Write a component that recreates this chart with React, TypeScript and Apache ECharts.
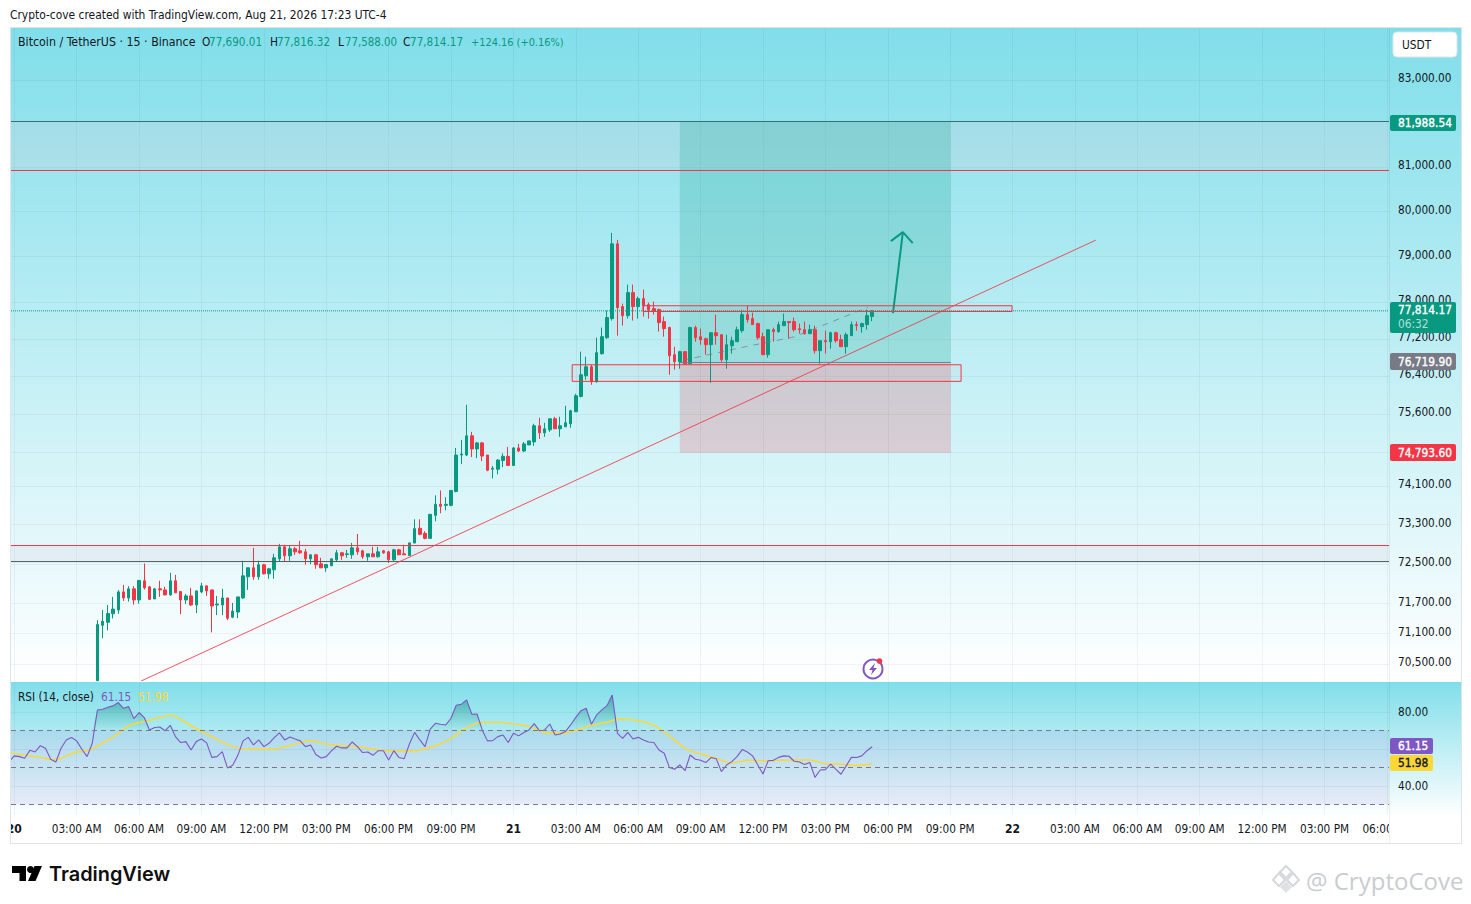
import React, { useEffect, useRef } from "react";
import * as echarts from "echarts";

const FONT = '"DejaVu Sans Condensed", "DejaVu Sans", sans-serif';
const UP = "#089981";
const DOWN = "#f23645";
const INK = "#131722";

// x unit: one 15-minute slot counted from Aug 20 00:00
const firstCandleSlot = 16;
const opens = [
  70170,71266,71327,71496,71570,71935,71813,71996,71773,72158,
  72036,71793,71996,71975,71874,72158,71941,71773,71854,71672,
  71935,72056,71975,71672,71672,71813,71428,71530,71813,72239,
  72421,72239,72482,72299,72380,72603,72846,72664,72806,72765,
  72745,72603,72684,72502,72421,72461,72583,72725,72691,72684,
  72826,72765,72644,72704,72644,72765,72745,72583,72785,72704,
  72670,72923,73225,73122,73019,73491,73717,73696,73696,73984,
  74740,74740,75142,74867,74994,74740,74444,74444,74627,74712,
  74522,74888,74824,74951,75015,75353,75205,75269,75501,75290,
  75332,75396,75649,75975,76414,76608,76287,76888,77232,77645,
  79285,77906,77710,78212,77906,78080,77949,77862,77841,77580,
  77450,76866,76716,76931,76673,77450,77254,77210,77081,77340,
  77297,76758,77059,77146,77384,77732,77645,77537,77254,76866,
  77405,77363,77493,77580,77580,77428,77405,77319,77405,76953,
  77167,77146,77340,77189,77038,77276,77515,77471,77515,77690.01,
];
const closes = [
  71280,71347,71503,71590,71935,71813,71996,71773,72164,72016,
  71786,71996,71975,71874,72158,71915,71773,71854,71672,71955,
  72056,71955,71651,71692,71813,71408,71550,71834,72259,72421,
  72239,72482,72299,72400,72623,72846,72664,72806,72745,72725,
  72603,72684,72482,72421,72488,72603,72725,72664,72704,72826,
  72745,72644,72704,72644,72745,72725,72583,72785,72684,72684,
  72927,73218,73101,73019,73512,73717,73676,73717,74004,74740,
  74761,75142,74867,74994,74719,74423,74466,74634,74712,74522,
  74888,74824,74973,75036,75353,75205,75290,75501,75290,75353,
  75417,75671,75988,76436,76608,76287,76910,77254,77667,79285,
  77884,77710,78212,77906,78080,77928,77841,77819,77558,77428,
  76845,76716,76931,76666,77450,77232,77189,77081,77340,77275,
  76758,77081,77167,77405,77732,77623,77515,77232,76866,77405,
  77363,77515,77580,77558,77405,77405,77319,77405,76953,77167,
  77146,77340,77167,77038,77297,77515,77493,77537,77710,77814.17,
];
const highs = [
  71368,71570,71672,71834,71969,72077,72050,72050,72178,72509,
  72056,72009,72158,72036,72320,72279,71955,71894,72016,71960,
  72117,72056,71975,71854,71996,71813,71712,71834,72563,72421,
  72826,72563,72502,72421,72704,72907,72887,72866,72846,72968,
  72806,72684,72704,72623,72495,72603,72785,72745,72785,72927,
  73109,72785,72704,72846,72846,72785,72765,72806,72806,72887,
  72927,73409,73409,73163,73512,73902,74004,73861,74004,74888,
  75057,75797,75226,75015,75015,74740,74508,74655,74775,74909,
  74909,74973,75015,75036,75396,75522,75417,75501,75544,75544,
  75776,75692,76030,76931,76824,76651,77232,77450,77819,79529,
  79372,77971,78387,78387,78124,78277,77993,78015,77862,77689,
  77471,77037,76953,76931,77471,77493,77428,77232,77340,77732,
  77297,77297,77254,77471,77841,77928,77776,77558,77341,77405,
  77450,77580,77754,77580,77667,77537,77580,77515,77493,77167,
  77384,77363,77363,77297,77341,77580,77580,77558,77841,77816.32,
];
const lows = [
  70170,71010,71165,71402,71496,71753,71739,71678,71699,71982,
  71773,71793,71834,71867,71860,71915,71489,71692,71651,71510,
  71908,71854,71125,71469,71469,71368,71408,71408,71793,71975,
  72178,72178,72286,72198,72198,72542,72542,72563,72684,72704,
  72482,72495,72400,72414,72340,72461,72542,72583,72623,72603,
  72684,72603,72563,72644,72630,72704,72522,72563,72684,72684,
  72670,72923,73081,72999,73019,73368,73532,73594,73676,73963,
  74550,74719,74698,74676,74613,74402,74254,74339,74486,74522,
  74522,74803,74803,74951,74930,75078,75121,75226,75290,75121,
  75332,75311,75649,75954,76329,76223,76265,76866,77210,77602,
  77276,77493,77645,77602,77645,77689,77645,77732,77363,77254,
  76436,76544,76565,76666,76651,77146,77081,76866,76265,77081,
  76716,76565,76888,77146,77340,77558,77515,77189,76866,76802,
  77146,77340,77493,77210,77363,77319,77297,77319,76888,76673,
  76888,76995,77124,77038,76888,77276,77384,77341,77406,77588,
];

const firstRsiSlot = -1;
const rsiValues = [
  53.1,56.2,55.8,54.9,59.2,58.3,61.7,60.3,54.4,52.9,60.3,
  64.8,66.1,64.3,59.8,55.8,63.0,81.0,81.4,82.4,83.2,
  85.0,81.9,82.8,76.3,79.6,76.9,70.2,71.5,71.8,69.8,
  72.7,66.6,63.4,63.9,59.4,63.9,65.3,63.2,55.4,55.8,
  58.5,49.7,51.1,56.5,64.3,66.2,62.1,64.8,61.2,63.0,
  66.1,68.6,64.8,66.4,65.3,64.3,61.2,62.1,56.9,55.1,
  55.8,58.9,61.4,60.5,60.5,63.7,61.2,58.0,58.3,56.5,
  59.0,59.0,54.0,59.0,55.3,54.7,62.6,68.9,64.8,61.2,
  70.6,73.8,73.3,72.9,76.5,83.5,84.1,86.4,78.7,78.8,
  70.2,64.3,64.4,66.6,67.5,63.4,68.4,67.0,68.8,70.2,
  73.6,69.8,70.2,73.4,67.5,68.0,69.3,72.9,77.0,80.6,
  81.9,73.3,78.3,81.0,83.3,89.1,68.4,65.7,68.9,65.3,
  66.2,64.8,63.7,63.4,59.4,57.6,50.0,49.0,51.3,48.2,
  56.7,54.4,53.8,52.6,55.3,54.7,47.7,51.3,53.1,55.8,
  59.6,58.3,56.2,51.3,46.4,53.6,53.8,55.4,56.2,56.0,
  53.3,52.9,51.5,52.6,44.6,48.6,48.8,51.8,49.0,46.3,
  50.8,55.4,55.3,56.2,59.0,61.15,
];
const rsiMaSlots = [
  -1,2,5,8,10,12,14,16,18,20,22,24,26,28,30,33,36,39,42,45,48,51,54,57,60,63,66,69,72,75,78,81,84,86,88,90,
  93,96,99,102,105,108,111,114,116,120,123,126,129,132,135,138,141,144,147,150,153,156,159,162,165,
];
const rsiMaValues = [
  58.0,56.5,55.4,54.0,56.2,58.3,59.0,61.6,64.8,68.4,72.5,74.2,75.4,77.0,78.1,74.2,69.3,65.2,61.2,59.8,59.8,60.3,62.6,64.3,62.6,61.7,61.2,59.8,59.0,58.9,59.4,61.7,65.7,69.7,72.9,74.3,
  74.3,73.4,72.0,68.9,68.4,70.0,72.7,74.3,76.0,75.2,72.7,67.0,60.3,57.2,54.9,52.4,53.8,53.6,53.8,54.0,54.0,52.0,51.8,51.1,51.98,
];

const priceGridTicks = [83000,81000,80000,79000,78000,77200,76400,75600,74800,74100,73300,72500,71700,71100,70500];
const rsiGridTicks = [80,60,40];
const rsiLabelTicks = [80,40];
const rsiGuides = [70,50,30];
const timeTicks: number[] = [];
for (let s = 0; s <= 264; s += 12) timeTicks.push(s);
const hourLabels = ["12:00 AM","03:00 AM","06:00 AM","09:00 AM","12:00 PM","03:00 PM","06:00 PM","09:00 PM"];
const firstDay = 20;

// drawn levels and tools: [slot, price]
const axisSlots = [-0.63, 264.4];
const upperZoneLevels = [82043, 80928];
const lowerZoneLevels = [72873, 72547];
const lastPrice = 77814.17;
const positionLevels = [82043, 76700, 74780];
const positionSlots = [128, 180.1];
const rectA = { slots: [120.9, 191.9], prices: [77925, 77800] };
const rectB = { slots: [107.3, 182.1], prices: [76650, 76295] };
const trendLine = [[24.4, 70165], [208, 79367]];
const dashedLine = [[128.6, 76745], [139, 77000], [150, 77250], [164.2, 77893]];
const arrowShaft = [[169, 77762], [170.9, 79545]];
const arrowHead = [[168.6, 79345], [170.9, 79545], [172.8, 79301]];

const txt = (x: number, y: number, text: string, fill = INK, size = 11.8, extra: any = {}) => ({
  type: "text", x, y, z: 100, silent: true,
  style: { text, fill, fontFamily: FONT, fontSize: size, verticalAlign: "middle", textVerticalAlign: "middle", ...extra },
});
const tagText = (x: number, y: number, text: string, color = "#ffffff") =>
  txt(x, y, text, color, 11.8, { stroke: color, lineWidth: 0.35 });
const tag = (y: number, h: number, fill: string, text: string, color = "#ffffff", w = 66) => [
  { type: "rect", z: 99, silent: true, shape: { x: 1390, y, width: w, height: h, r: 2 }, style: { fill } },
  tagText(1398, y + h / 2, text, color),
];
const toolLine = (data: number[][], color: string, width: number, extra: any = {}, z = 6) => ({
  type: "line", xAxisIndex: 0, yAxisIndex: 0, data, symbol: "none", silent: true, z, clip: true,
  lineStyle: { color, width, ...extra }, animation: false,
});
const levelLine = (y: number, color: string, extra: any = {}) =>
  toolLine(axisSlots.map((s) => [s, y]), color, 1, extra, 5);

export default function App() {
  const ref = useRef<HTMLDivElement>(null);
  useEffect(() => {
    const chart = echarts.init(ref.current!, undefined, { renderer: "svg" });
    const candles = opens.map((o, i) => [firstCandleSlot + i, o, closes[i], lows[i], highs[i]]);
    const rsi = rsiValues.map((v, i) => [firstRsiSlot + i, v]);
    const rsiAbove = rsiValues.map((v, i) => [firstRsiSlot + i, Math.max(v, 70)]);
    const rsiMa = rsiMaSlots.map((s, i) => [s, rsiMaValues[i]]);

    chart.setOption({
      animation: false,
      backgroundColor: "#ffffff",
      textStyle: { fontFamily: FONT },
      grid: [
        { left: 11, top: 28, width: 1378, height: 653, containLabel: false },
        { left: 11, top: 682, width: 1378, height: 133, containLabel: false },
      ],
      xAxis: [0, 1].map((g) => ({
        type: "value", gridIndex: g, min: -0.63, max: 264.4,
        axisLine: { show: false },
        axisTick: { show: false, customValues: timeTicks },
        splitLine: { show: true, lineStyle: { color: "rgba(42,46,57,0.055)", width: 1 } },
        axisLabel: g === 0 ? { show: false } : {
          show: true, customValues: timeTicks, margin: 8, color: INK, fontSize: 11.7, fontFamily: FONT,
          hideOverlap: false,
          formatter: (v: number) => {
            const s = Math.round(v);
            if (s % 96 === 0) return `{d|${firstDay + s / 96}}`;
            return hourLabels[(s % 96) / 12];
          },
          rich: { d: { fontWeight: "bold", color: INK, fontSize: 12, fontFamily: FONT } },
        },
      })),
      yAxis: [
        {
          type: "log", logBase: Math.E, gridIndex: 0, position: "right", min: 70165, max: 84216,
          axisLine: { show: false },
          axisTick: { show: false, customValues: priceGridTicks },
          minorTick: { show: false }, minorSplitLine: { show: false },
          splitLine: { show: true, lineStyle: { color: "rgba(42,46,57,0.055)", width: 1 } },
          axisLabel: {
            show: true, customValues: priceGridTicks, margin: 9, color: INK, fontSize: 11.7, fontFamily: FONT,
            formatter: (v: number) =>
              `{p|${(Math.round(v / 100) * 100).toLocaleString("en-US", { minimumFractionDigits: 2 })}}`,
            rich: { p: { color: INK, fontSize: 11.7, fontFamily: FONT, padding: [0, 0, 4, 0] } },
          },
        },
        {
          type: "value", gridIndex: 1, position: "right", min: 24.3, max: 96.07,
          axisLine: { show: false },
          axisTick: { show: false, customValues: rsiGridTicks },
          splitLine: { show: true, lineStyle: { color: "rgba(42,46,57,0.055)", width: 1 } },
          axisLabel: {
            show: true, customValues: rsiLabelTicks, margin: 9, color: INK, fontSize: 11.7, fontFamily: FONT,
            formatter: (v: number) => v.toFixed(2),
          },
        },
      ],
      series: [
        {
          type: "candlestick", name: "BTCUSDT", xAxisIndex: 0, yAxisIndex: 0, data: candles,
          encode: { x: 0, y: [1, 2, 3, 4] }, barWidth: 3, clip: true, z: 4, silent: true,
          itemStyle: { color: UP, color0: DOWN, borderColor: UP, borderColor0: DOWN, borderWidth: 1 },
          markArea: {
            silent: true, z: 1,
            data: [
              [{ yAxis: upperZoneLevels[0], itemStyle: { color: "rgba(209,212,220,0.27)" } }, { yAxis: upperZoneLevels[1] }],
              [{ yAxis: lowerZoneLevels[0], itemStyle: { color: "rgba(209,212,220,0.27)" } }, { yAxis: lowerZoneLevels[1] }],
              [{ xAxis: positionSlots[0], yAxis: positionLevels[0], itemStyle: { color: "rgba(8,153,129,0.2)" } }, { xAxis: positionSlots[1], yAxis: positionLevels[1] }],
              [{ xAxis: positionSlots[0], yAxis: positionLevels[1], itemStyle: { color: "rgba(242,54,69,0.2)" } }, { xAxis: positionSlots[1], yAxis: positionLevels[2] }],
            ],
          },
        },
        levelLine(upperZoneLevels[0], "#37706f"),
        levelLine(upperZoneLevels[1], DOWN),
        levelLine(lowerZoneLevels[0], DOWN),
        levelLine(lowerZoneLevels[1], "#4a5a5c"),
        levelLine(lastPrice, UP, { type: "dotted" }),
        {
          ...toolLine(trendLine, DOWN, 1, { opacity: 0.85 }),
          markArea: {
            silent: true, z: 7,
            data: [
              [{ xAxis: rectA.slots[0], yAxis: rectA.prices[0], itemStyle: { color: "rgba(242,54,69,0.03)", borderColor: DOWN, borderWidth: 1 } }, { xAxis: rectA.slots[1], yAxis: rectA.prices[1] }],
              [{ xAxis: rectB.slots[0], yAxis: rectB.prices[0], itemStyle: { color: "rgba(242,54,69,0.03)", borderColor: DOWN, borderWidth: 1 } }, { xAxis: rectB.slots[1], yAxis: rectB.prices[1] }],
            ],
          },
        },
        toolLine(positionSlots.map((s) => [s, positionLevels[1]]), "#787b86", 1),
        toolLine(dashedLine, "rgba(120,123,134,0.75)", 1, { type: [6, 6] }),
        toolLine(arrowShaft, UP, 2),
        toolLine(arrowHead, UP, 2),
        {
          type: "line", name: "RSI fill", xAxisIndex: 1, yAxisIndex: 1, data: rsiAbove, symbol: "none", silent: true,
          lineStyle: { width: 0 }, z: 2,
          areaStyle: {
            origin: 70,
            color: new echarts.graphic.LinearGradient(0, 0, 0, 1, [
              { offset: 0, color: "rgba(8,120,110,0.75)" },
              { offset: 1, color: "rgba(8,153,129,0.05)" },
            ]),
          },
        },
        {
          type: "line", name: "RSI", xAxisIndex: 1, yAxisIndex: 1, data: rsi, symbol: "none", silent: true, z: 4,
          lineStyle: { color: "#7e57c2", width: 1.1 },
          markArea: {
            silent: true, z: 1,
            data: [[{ yAxis: rsiGuides[2], itemStyle: { color: "rgba(126,87,194,0.1)" } }, { yAxis: rsiGuides[0] }]],
          },
          markLine: {
            silent: true, symbol: "none", label: { show: false },
            lineStyle: { color: "#787b86", width: 1, type: [5, 4] },
            data: rsiGuides.map((v) => ({ yAxis: v })),
          },
        },
        {
          type: "line", name: "RSI MA", xAxisIndex: 1, yAxisIndex: 1, data: rsiMa, symbol: "none", silent: true, z: 3,
          smooth: 0.3, lineStyle: { color: "#fdd835", width: 1.5 },
        },
      ],
      graphic: {
        elements: [
          {
            type: "rect", z: -10, silent: true, shape: { x: 11, y: 28, width: 1450, height: 653 },
            style: { fill: new echarts.graphic.LinearGradient(0, 0, 0, 1, [{ offset: 0, color: "#80deea" }, { offset: 1, color: "#ffffff" }]) },
          },
          {
            type: "rect", z: -10, silent: true, shape: { x: 11, y: 682, width: 1450, height: 135 },
            style: { fill: new echarts.graphic.LinearGradient(0, 0, 0, 1, [{ offset: 0, color: "#80deea" }, { offset: 1, color: "#ffffff" }]) },
          },
          { type: "rect", z: 50, silent: true, shape: { x: 0, y: 820, width: 10, height: 22 }, style: { fill: "#ffffff" } },
          { type: "rect", z: 50, silent: true, shape: { x: 1389, y: 818, width: 71, height: 25 }, style: { fill: "#ffffff" } },
          { type: "rect", z: 51, silent: true, shape: { x: 10.5, y: 27.5, width: 1451, height: 816 }, style: { fill: "none", stroke: "#e0e3eb", lineWidth: 1 } },
          { type: "line", z: 51, silent: true, shape: { x1: 1389.5, y1: 28, x2: 1389.5, y2: 843 }, style: { stroke: "rgba(42,46,57,0.08)", lineWidth: 1 } },

          txt(10, 15, "Crypto-cove created with TradingView.com, Aug 21, 2026 17:23 UTC-4", INK, 11.9),
          txt(18, 42, "Bitcoin / TetherUS · 15 · Binance", INK, 12.3),
          txt(202, 42, "O"), txt(209, 42, "77,690.01", UP, 11.6),
          txt(270, 42, "H"), txt(277, 42, "77,816.32", UP, 11.6),
          txt(338, 42, "L"), txt(345, 42, "77,588.00", UP, 11.4),
          txt(403, 42, "C"), txt(410, 42, "77,814.17", UP, 11.6),
          txt(471, 42, "+124.16 (+0.16%)", UP, 10.9),
          txt(18, 697, "RSI (14, close)", INK, 11.7),
          txt(101, 697, "61.15", "#7e57c2"),
          txt(138, 697, "51.98", "#fdd835"),

          { type: "rect", z: 99, silent: true, shape: { x: 1393, y: 32, width: 64, height: 25, r: 4 }, style: { fill: "#ffffff", stroke: "#e0e3eb", lineWidth: 1 } },
          txt(1402, 45, "USDT"),
          ...tag(115, 16, UP, "81,988.54"),
          { type: "rect", z: 99, silent: true, shape: { x: 1390, y: 302, width: 66, height: 31, r: 2 }, style: { fill: UP } },
          tagText(1398, 310, "77,814.17"),
          txt(1398, 324, "06:32", "rgba(255,255,255,0.7)"),
          ...tag(353, 17, "#787b86", "76,719.90"),
          ...tag(444, 17, DOWN, "74,793.60"),
          ...tag(738, 16, "#7e57c2", "61.15", "#ffffff", 43),
          ...tag(755, 16, "#fdd835", "51.98", INK, 43),

          { type: "circle", z: 60, silent: true, shape: { cx: 873, cy: 669, r: 9.5 }, style: { fill: "#ffffff", stroke: "#7e57c2", lineWidth: 2 } },
          { type: "polygon", z: 61, silent: true, shape: { points: [[875, 663], [869, 670], [872.5, 670], [871, 675], [877, 668], [873.5, 668]] }, style: { fill: "#7e57c2" } },
          { type: "circle", z: 62, silent: true, shape: { cx: 879.5, cy: 661, r: 2.8 }, style: { fill: DOWN } },

          { type: "polygon", z: 60, silent: true, shape: { points: [[12, 866], [26, 866], [26, 881], [19.5, 881], [19.5, 873], [12, 873]] }, style: { fill: "#000000" } },
          { type: "circle", z: 60, silent: true, shape: { cx: 30.5, cy: 869.5, r: 3.5 }, style: { fill: "#000000" } },
          { type: "polygon", z: 60, silent: true, shape: { points: [[34.5, 866], [42, 866], [35.5, 881], [28, 881]] }, style: { fill: "#000000" } },
          {
            type: "text", z: 60, silent: true, x: 49, y: 874,
            style: { text: "TradingView", fill: "#0f0f0f", fontFamily: "Inter", fontSize: 19.9, fontWeight: 600, verticalAlign: "middle", textVerticalAlign: "middle" },
          },
          { type: "polygon", z: 60, silent: true, shape: { points: [[1286, 866], [1292, 872], [1286, 878], [1280, 872]] }, style: { fill: "none", stroke: "#d5d8dc", lineWidth: 2 } },
          { type: "polygon", z: 60, silent: true, shape: { points: [[1279, 873], [1285, 880], [1279, 886], [1273, 880]] }, style: { fill: "none", stroke: "#d5d8dc", lineWidth: 2 } },
          { type: "polygon", z: 60, silent: true, shape: { points: [[1293, 873], [1299, 880], [1293, 886], [1287, 880]] }, style: { fill: "none", stroke: "#d5d8dc", lineWidth: 2 } },
          { type: "polygon", z: 60, silent: true, shape: { points: [[1286, 881], [1292, 887], [1286, 893], [1280, 887]] }, style: { fill: "#dfe1e5" } },
          {
            type: "text", z: 60, silent: true, x: 1306, y: 880,
            style: { text: "@ CryptoCove", fill: "#c9ccd1", fontFamily: "Open Sans", fontSize: 24, verticalAlign: "middle", textVerticalAlign: "middle" },
          },
        ],
      },
    });
    return () => chart.dispose();
  }, []);
  return <div ref={ref} style={{ position: "fixed", left: 0, top: 0, width: 1471, height: 904, background: "#fff" }} />;
}
